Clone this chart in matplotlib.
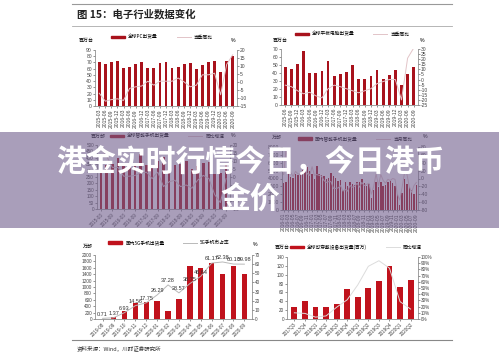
import matplotlib
matplotlib.use("Agg")
import matplotlib.pyplot as plt
from matplotlib.patches import Rectangle, Patch
from matplotlib.lines import Line2D

plt.rcParams['font.family'] = ['Noto Sans CJK SC', 'DejaVu Sans']
plt.rcParams['axes.unicode_minus'] = False

W, H = 499, 361
RED = '#A8121C'
GREY = '#8c8c8c'
NUMFONT = 'Liberation Sans'

# ---- data ----
q_labels = [f"{y}-{m:02d}" for y in range(2015, 2021) for m in (3, 6, 9, 12)][:23]
pc_ship = [70, 67, 71, 72, 61, 63, 68, 71, 61, 61, 69, 71, 61, 63, 68, 69, 59, 66, 71, 72, 54, 73, 81]
pc_yoy = [-7, -12, -11, -10.5, -11.5, -4, -3, -2.5, 0.5, -2, 0.5, 0.5, 0.5, 2.5, 0, -3, -2, 4.5, 4.5, 5.5, -8, 11, 17]

tab_labels = [f"{y}-{m:02d}" for y in range(2015, 2021) for m in (3, 6, 9, 12)][1:23]
tab_ship = [47, 45, 51.5, 67, 40, 40, 43, 55, 36, 38.5, 41, 49.5, 32, 33, 36, 44, 32, 38, 44, 25, 39, 48]
tab_yoy = [-5.5, -7, -11, -14, -12.5, -16, -18, -9, -5.5, -7, -9, -11, -13, -11, -9, -4, -2, 0, 0, -20, 21, 31]

sp_labels = q_labels
sp_ship = [334, 342, 355, 400, 335, 343, 363, 428, 345, 342, 373, 403, 334, 342, 355, 375, 311, 333, 358, 369, 276, 278, 354]
sp_yoy = [18, 13, 6, 6, 0.5, 0.5, 1, 2.5, 3, -1, 3, -6, -3, -2, -6, -5, -7, -2, 1, -1, -11, -16, -1]

cn_labels = [f"{y}-{m:02d}" for y in range(2016, 2021) for m in range(1, 13)][:57]
cn_ship = [3400, 3600, 5000, 4200, 4100, 4600, 4400, 4500, 5100, 5600, 5500, 4900,
           4600, 3900, 5600, 4600, 4400, 4300, 4000, 4100, 4700, 4300, 4100, 3700,
           3800, 2600, 3500, 3000, 3600, 3300, 3200, 3600, 3600, 3900, 3400, 3100,
           3300, 1500, 2600, 3500, 2900, 3600, 3000, 3200, 3500, 3700, 3400, 3000,
           2000, 640, 2200, 4000, 3300, 2900, 2600, 2000, 3200]
cn_yoy = [10, 75, 20, 15, 5, 18, 12, 10, 15, 20, 12, 8,
          30, 8, 10, 8, 6, -5, -10, -8, -8, -25, -25, -24,
          -18, -32, -28, -32, -18, -22, -20, -12, -22, -10, -18, -15,
          -12, -40, -20, 12, -18, 10, -5, -12, -2, -5, 0, -2,
          -40, -55, -22, 14, 12, -20, -35, -18, -10]

g5_labels = ['2019-08', '2019-09', '2019-10', '2019-11', '2019-12', '2020-01', '2020-02',
             '2020-03', '2020-04', '2020-05', '2020-06', '2020-07', '2020-08', '2020-09']
g5_ship = [10, 50, 250, 510, 540, 550, 240, 620, 1650, 1580, 1750, 1400, 1650, 1400]
g5_share = [0.71, 1.37, 6.93, 14.56, 17.75, 26.29, 37.28, 28.57, 38.75, 46.64, 61.17, 62.38, 60.10, 59.98]

wr_labels = ['2017Q3', '2017Q4', '2018Q1', '2018Q2', '2018Q3', '2018Q4',
             '2019Q1', '2019Q2', '2019Q3', '2019Q4', '2020Q1', '2020Q2']
wr_ship = [27, 40, 26, 28, 34, 67, 50, 70, 85, 120, 73, 87]
wr_yoy = [10, 9, 3, 5, 19, 31, 55, 85, 94, 82, 28, 16]


def rect(x0, y0, x1, y1):
    return [x0 / W, 1 - y1 / H, (x1 - x0) / W, (y1 - y0) / H]


def ftext(x, y, s, **kw):
    fig.text(x / W, 1 - y / H, s, **kw)


def combo(box, labels, bars, line, ylim, ystep, y2lim, y2step, bar_name, line_name,
          leg_xy, rot=90, every=1, line_color='#e2c4c8', bar_color=RED, bw=0.45, fmt=None, tsize=3.6):
    ax = fig.add_axes(rect(*box))
    x = range(len(bars))
    ax.bar(x, bars, width=bw, color=bar_color, zorder=2)
    ax.set_ylim(*ylim)
    ax.set_yticks(range(ylim[0], ylim[1] + 1, ystep))
    ax.set_xlim(-0.7, len(bars) - 0.3)
    ax.set_xticks(list(x)[::every])
    ax.set_xticklabels(labels[::every], rotation=rot, fontsize=3, family=NUMFONT,
                       ha='center' if rot == 90 else 'right',
                       rotation_mode='default' if rot == 90 else 'anchor')
    ax2 = ax.twinx()
    ax2.plot(x, line, color=line_color, lw=0.7, zorder=3)
    ax2.set_ylim(*y2lim)
    ax2.set_yticks(range(y2lim[0], y2lim[1] + 1, y2step))
    if fmt:
        ax2.set_yticklabels([fmt(v) for v in range(y2lim[0], y2lim[1] + 1, y2step)])
    for a in (ax, ax2):
        a.tick_params(labelsize=tsize, length=1.2, width=0.4, pad=1, colors='#444444')
        for lab in a.get_yticklabels():
            lab.set_family(NUMFONT)
        a.spines['top'].set_visible(False)
        for s in ('left', 'right', 'bottom'):
            a.spines[s].set_linewidth(0.4)
            a.spines[s].set_color(GREY)
        a.patch.set_alpha(0)
    handles = [Patch(color=bar_color), Line2D([], [], color=line_color, lw=0.7)]
    ax.legend(handles, [bar_name, line_name], ncol=2, frameon=False, fontsize=3.4,
              loc='center', bbox_to_anchor=(leg_xy[0] / W, 1 - leg_xy[1] / H),
              bbox_transform=fig.transFigure, handlelength=3, handleheight=0.5,
              columnspacing=4, handletextpad=0.6)
    return ax, ax2


fig = plt.figure(figsize=(W / 100, H / 100), dpi=100)
fig.patch.set_facecolor('white')

# header
fig.add_artist(Line2D([72 / W, 452 / W], [1 - 4 / H] * 2, color='#999999', lw=0.8))
fig.add_artist(Line2D([72 / W, 452 / W], [1 - 26 / H] * 2, color='#aaaaaa', lw=0.6))
ftext(77, 14.5, "图 15：电子行业数据变化", fontsize=7.5, fontweight='bold', va='center', color='#222222')

# top row
combo((95, 50, 237, 106), q_labels, pc_ship, pc_yoy, (0, 90), 10, (-15, 20), 5,
      "全球PC出货量", "当季同比", (162, 37))
ftext(86, 40, "百万台", fontsize=3.6, ha='center', va='center')
ftext(233, 40, "%", fontsize=3.8, ha='center', va='center', family=NUMFONT)

combo((281, 49, 418, 105), tab_labels, tab_ship, tab_yoy, (0, 70), 10, (-25, 30), 5,
      "全球平板电脑出货量", "当季同比", (352, 34))
ftext(280, 40, "百万台", fontsize=3.6, ha='center', va='center')
ftext(422, 40, "%", fontsize=3.8, ha='center', va='center', family=NUMFONT)

# middle row (under the banner)
combo((97, 145, 230, 209), sp_labels, sp_ship, sp_yoy, (0, 500), 50, (-20, 20), 5,
      "全球智能手机出货量", "同比增速", (167, 136), rot=45, every=2, tsize=3.3)
ftext(98, 136, "百万部", fontsize=3.6, ha='center', va='center')
ftext(233, 136, "%", fontsize=3.8, ha='center', va='center', family=NUMFONT)

combo((282, 147, 418, 210), cn_labels, cn_ship, cn_yoy, (0, 8000), 1000, (-80, 80), 20,
      "国内智能手机出货量", "当月同比", (355, 139), every=2, bw=0.6)
ftext(277, 137, "万部", fontsize=3.6, ha='center', va='center')
ftext(425, 137, "%", fontsize=3.8, ha='center', va='center', family=NUMFONT)

# bottom row
ax, ax2 = combo((95, 255, 252, 319), g5_labels, g5_ship, g5_share, (0, 2000), 200, (0, 70), 10,
                "国内5G手机出货量", "5G手机市占率", (169, 243), rot=45,
                line_color='#b9b9b9', bar_color='#C0121C', bw=0.5, tsize=3.4)
for i, v in enumerate(g5_share):
    ax2.text(i, v + 2, f"{v:.2f}", fontsize=4.0, ha='center', va='bottom', color='#333333',
             family=NUMFONT)
ftext(88, 246, "万部", fontsize=3.6, ha='center', va='center')
ftext(255, 245, "%", fontsize=3.8, ha='center', va='center', family=NUMFONT)

combo((287, 257, 418, 319), wr_labels, wr_ship, wr_yoy, (0, 140), 20, (0, 100), 10,
      "全球可穿戴设备出货量(百万)", "同比增速", (356, 247), rot=45,
      line_color='#dcdcdc', bar_color='#C0121C', bw=0.55, fmt=lambda v: f"{v}%", tsize=3.3)
ftext(282, 247, "百万台", fontsize=3.6, ha='center', va='center')

# footer
fig.add_artist(Line2D([72 / W, 452 / W], [1 - 340 / H] * 2, color='#888888', lw=0.8))
ftext(77, 348, "资料来源：Wind，川财证券研究所", fontsize=4, va='center', color='#333333', style='italic')

# banner overlay
fig.add_artist(Rectangle((0, 1 - 228 / H), 1, 96 / H, transform=fig.transFigure,
                         facecolor=(112 / 255, 94 / 255, 140 / 255), alpha=0.6, zorder=10, lw=0))
ftext(250, 163, "港金实时行情今日，今日港币", fontsize=21.5, fontweight='heavy', color='white',
      ha='center', va='center', zorder=11)
ftext(250, 200, "金价", fontsize=21.5, fontweight='heavy', color='white',
      ha='center', va='center', zorder=11)

fig.savefig("out.png", dpi=100)
